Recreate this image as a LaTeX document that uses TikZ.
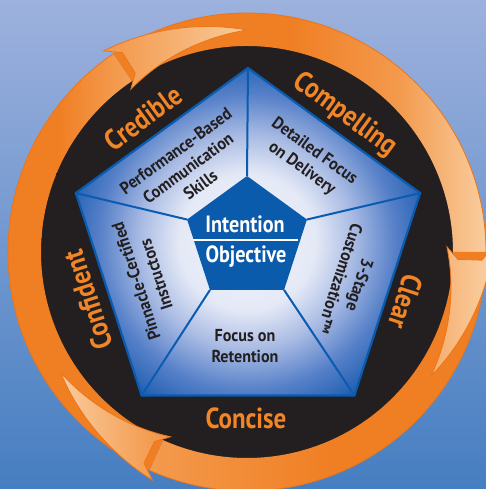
\documentclass[tikz,border=0pt]{standalone}
\usepackage{fontspec}
\setmainfont{PT Sans}
\newfontfamily\labfont{PT Sans}[FakeStretch=0.86]
\newfontfamily\segfont{PT Sans}[FakeStretch=0.93]
\definecolor{bgtop}{RGB}{157,177,221}
\definecolor{bgbot}{RGB}{70,126,193}
\definecolor{diskblack}{RGB}{35,31,32}
\definecolor{odark}{RGB}{240,126,34}
\definecolor{omid}{RGB}{243,153,76}
\definecolor{olight}{RGB}{249,203,155}
\definecolor{oline}{RGB}{236,117,24}
\definecolor{olabel}{RGB}{242,134,38}
\definecolor{pblue}{RGB}{11,91,172}
\definecolor{pline}{RGB}{10,92,176}
\definecolor{ptext}{RGB}{35,31,32}
\definecolor{pc0}{RGB}{242,244,251}
\definecolor{pc1}{RGB}{228,233,246}
\definecolor{pc2}{RGB}{170,188,228}
\definecolor{pc3}{RGB}{86,128,200}
\definecolor{pc4}{RGB}{24,90,174}
\pgfdeclareradialshading{pentshade}{\pgfpoint{0bp}{0bp}}{color(0bp)=(pc0); color(9bp)=(pc1); color(14bp)=(pc2); color(19.5bp)=(pc3); color(25bp)=(pc4); color(50bp)=(pc4)}

\newcommand\annsec[2]{(#1:206) arc[start angle=#1, end angle=#2, radius=206] -- (#2:239) arc[start angle=#2, end angle=#1, radius=239] -- cycle}
\newcommand\headpath[2]{({#1+1.5}:247) -- plot[domain=0:1, samples=18] ({#1+1.5-(#1+1.5-(#2))*\x}:{247-25*\x}) -- plot[domain=1:0, samples=18] ({#1+1.5-(#1+1.5-(#2))*\x}:{200+22*\x}) -- ({#1-2}:211) -- ({#1-2}:235) -- cycle}
\newcommand\gradLR[3]{%
 \fill[odark] (-300,-300) rectangle ({#1+0.5},300);
 \shade[left color=odark, right color=omid] (#1,-300) rectangle ({#2+0.3},300);
 \shade[left color=omid, right color=olight] (#2,-300) rectangle ({#3+0.3},300);
 \fill[olight] (#3,-300) rectangle (300,300);}
\newcommand\gradRL[3]{%
 \fill[odark] ({#1-0.5},-300) rectangle (300,300);
 \shade[left color=omid, right color=odark] ({#2-0.3},-300) rectangle (#1,300);
 \shade[left color=olight, right color=omid] ({#3-0.3},-300) rectangle (#2,300);
 \fill[olight] (-300,-300) rectangle (#3,300);}

\tikzset{
 lab/.style={text=olabel, font=\labfont\bfseries\fontsize{29}{29}\selectfont, inner sep=0},
 seg/.style={text=ptext, font=\segfont\bfseries\fontsize{17.3}{21}\selectfont, align=center, inner sep=0},
 ttl/.style={text=white, font=\labfont\bfseries\fontsize{23.5}{24}\selectfont, inner sep=0, anchor=base},
 pedge/.style={pline, line width=2},
 headline/.style={oline, line width=0.8, line join=miter}
}

\begin{document}
\begin{tikzpicture}[x=1pt,y=1pt]
\useasboundingbox (-247,-237) rectangle (239,252);
\shade[top color=bgtop, bottom color=bgbot] (-247,-237) rectangle (239,252);
\fill[diskblack] (0,0) circle (207);

% pentagon
\foreach \i/\a in {1/90,2/162,3/234,4/306,5/18}{
  \coordinate (O\i) at ([shift={(1,3)}]\a:181);
  \coordinate (I\i) at ([shift={(0,13)}]\a:63);
}
\begin{scope}
 \clip (O1)--(O2)--(O3)--(O4)--(O5)--cycle;
 \shade[shading=pentshade] (0,10) circle (190);
\end{scope}
\foreach \i in {1,...,5} \draw[pedge] (I\i) -- (O\i);
\draw[pedge, line width=2.2, line join=miter] (O1)--(O2)--(O3)--(O4)--(O5)--cycle;
\fill[pblue] (I1)--(I2)--(I3)--(I4)--(I5)--cycle;

% ring bodies
\fill[odark] \annsec{246}{175};
\begin{scope}\clip \annsec{176}{124}; \gradLR{-190}{-135}{0}\end{scope}
\begin{scope}\clip \annsec{124}{0}; \gradLR{40}{150}{235}\end{scope}
\begin{scope}\clip \annsec{0}{-114}; \gradRL{90}{-90}{-185}\end{scope}
\draw[oline, line width=0.8] (0,0) circle (239);

% arrow heads
\begin{scope}\clip \headpath{124}{90}; \gradLR{-190}{-135}{0}\end{scope}
\draw[headline] \headpath{124}{90};
\begin{scope}\clip \headpath{0}{-34}; \gradLR{40}{150}{235}\end{scope}
\draw[headline] \headpath{0}{-34};
\begin{scope}\clip \headpath{246}{213}; \gradRL{90}{-90}{-185}\end{scope}
\draw[headline] \headpath{246}{213};

% ring labels
\node[lab, rotate=36] (credible) at (-104,134) {Credible};
\node[lab, rotate=-36] (compelling) at (98,137) {Compelling};
\node[lab, rotate=-108] (clear) at (159,-50) {Clear};
\node[lab] (concise) at (-1,-166) {Concise};
\node[lab, rotate=108] (confident) at (-159,-48) {Confident};

% segment texts
\node[seg, rotate=36] (perf) at (-59,84) {Performance-Based\\Communication\\Skills};
\node[seg, rotate=-36] (detail) at (61,92) {Detailed Focus\\on Delivery};
\node[seg, rotate=-108] (stage) at (103,-30) {3-Stage\\Customization™};
\node[seg, rotate=108] (pinn) at (-101,-26) {Pinnacle-Certified\\Instructors};
\node[seg] (focus) at (-2,-94) {Focus on\\Retention};

% center
\node[ttl] (intent) at (-2,19) {Intention};
\node[ttl] (objct) at (-1,-11) {Objective};
\coordinate (sepL) at (-54,12);
\coordinate (sepR) at (51,12);
\draw[white, line width=1.3] (sepL) -- (sepR);
\end{tikzpicture}
\end{document}
